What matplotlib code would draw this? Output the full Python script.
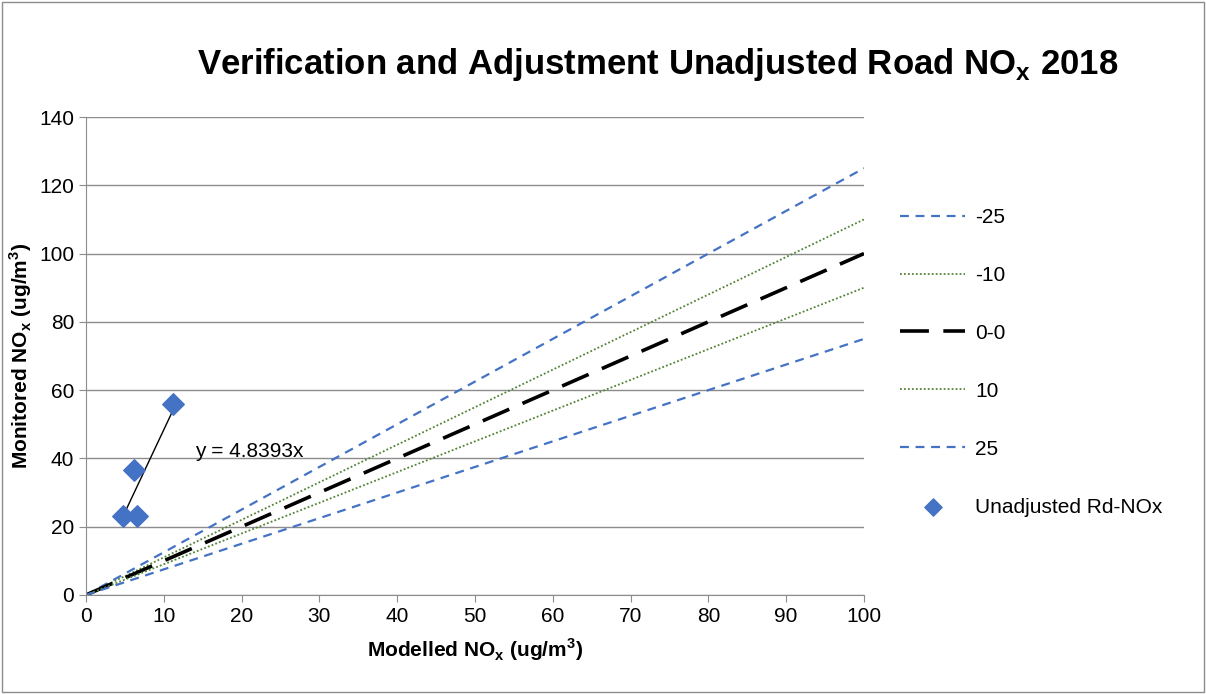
import matplotlib.pyplot as plt
import numpy as np

plt.rcParams['font.family'] = ['Liberation Sans Narrow', 'Liberation Sans', 'DejaVu Sans']

# data
modelled = [4.7, 6.5, 6.2, 11.2]
monitored = [23.0, 23.0, 36.5, 56.0]
slope = 4.8393

band_names = ['-25', '-10', '0-0', '10', '25']
band_factors = [1.25, 1.10, 1.00, 0.90, 0.75]
band_colors = ['#4472C4', '#548235', '#000000', '#548235', '#4472C4']
band_styles = [(0, (4, 3)), (0, (1, 1.2)), (0, (8, 4)), (0, (1, 1.2)), (0, (4, 3))]
band_widths = [1.6, 1.3, 2.6, 1.3, 1.6]

fig = plt.figure(figsize=(12.06, 6.94), dpi=100)
ax = fig.add_axes([0.0713, 0.1427, 0.6451, 0.6887])

xs = np.array([0, 100])
handles = []
for name, f, c, ls, lw in zip(band_names, band_factors, band_colors, band_styles, band_widths):
    ln, = ax.plot(xs, xs * f, color=c, linestyle=ls, linewidth=lw, label=name)
    handles.append(ln)

sc = ax.scatter(modelled, monitored, marker='D', s=120, color='#4472C4', zorder=5,
                label='Unadjusted Rd-NOx')
handles.append(sc)

tx = np.array([min(modelled), max(modelled)])
ax.plot(tx, tx * slope, color='black', linewidth=1, zorder=4)
ax.text(14, 42, 'y = 4.8393x', fontsize=15, ha='left', va='center')

ax.set_xlim(0, 100)
ax.set_ylim(0, 140)
ax.set_xticks(range(0, 101, 10))
ax.set_yticks(range(0, 141, 20))
ax.yaxis.grid(True, color='#8c8c8c', linewidth=1)
ax.set_axisbelow(True)
for s in ['top', 'right']:
    ax.spines[s].set_visible(False)
for s in ['left', 'bottom']:
    ax.spines[s].set_color('#8c8c8c')
ax.tick_params(labelsize=15, color='#8c8c8c', length=5, direction='out')

ax.set_xlabel('Modelled NO$_\\mathregular{x}$ (ug/m$^\\mathregular{3}$)', fontsize=15,
              fontweight='bold', labelpad=8)
ax.set_ylabel('Monitored NO$_\\mathregular{x}$ (ug/m$^\\mathregular{3}$)', fontsize=15,
              fontweight='bold', labelpad=4)

fig.text(0.545, 0.907, 'Verification and Adjustment Unadjusted Road NO$_\\mathregular{x}$ 2018',
         fontsize=25, fontweight='bold', ha='center', va='center')

fig.legend(handles=handles, loc='center left', bbox_to_anchor=(0.731, 0.478),
           frameon=False, fontsize=15, labelspacing=1.87, handlelength=3.1,
           handletextpad=0.5, markerscale=0.8)

fig.patches.append(plt.Rectangle((0.002, 0.003), 0.996, 0.994, transform=fig.transFigure,
                                 fill=False, edgecolor='#8c8c8c', linewidth=1))

fig.savefig('out.png', dpi=100)
